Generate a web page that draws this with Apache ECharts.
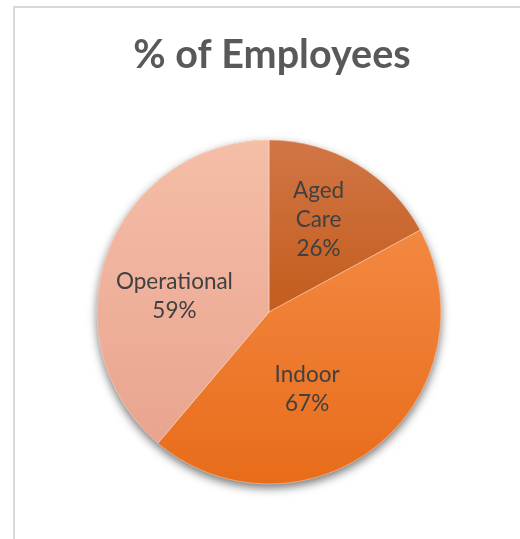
<!DOCTYPE html>
<html>
<head>
<meta charset="utf-8">
<script src="https://cdn.jsdelivr.net/npm/echarts@6/dist/echarts.min.js"></script>
<style>html,body{margin:0;padding:0;background:#fff}#c{width:520px;height:539px}</style>
</head>
<body>
<div id="c"></div>
<script>
const categories = ['Aged Care', 'Indoor', 'Operational'];
const labelNames = ['Aged\nCare', 'Indoor', 'Operational'];
const values = [26, 67, 59];
const colorsTop = ['#d07646', '#f38842', '#f5bea7'];
const colorsBottom = ['#c45c1c', '#e86c1a', '#e9a48f'];
const labelShift = [[4, -16], [-18, 8], [-11, 15]];

const chart = echarts.init(document.getElementById('c'));
const data = categories.map((c, i) => ({
  name: c,
  value: values[i],
  itemStyle: {
    color: new echarts.graphic.LinearGradient(0, 0, 0, 1, [
      { offset: 0, color: colorsTop[i] },
      { offset: 1, color: colorsBottom[i] }
    ])
  },
  label: { formatter: labelNames[i] + '\n' + values[i] + '%' }
}));

chart.setOption({
  animation: false,
  title: {
    text: '% of Employees',
    left: 267, top: 30, textAlign: 'center',
    textStyle: { fontFamily: 'Lato', fontWeight: 'bold', fontSize: 39.5, color: '#595959' }
  },
  graphic: [{
    type: 'rect', shape: { x: 14, y: 7, width: 520, height: 540 },
    style: { fill: 'none', stroke: '#d9d9d9', lineWidth: 2 }, silent: true, z: -10
  }],
  series: [
    {
      type: 'pie', center: [269, 312], radius: 172, silent: true, z: 1,
      data: [{ value: 1, name: '' }],
      label: { show: false }, labelLine: { show: false },
      itemStyle: { color: '#e86c1a', shadowBlur: 10, shadowOffsetY: 4, shadowColor: 'rgba(0,0,0,0.55)' }
    },
    {
      type: 'pie', center: [269, 312], radius: 172, startAngle: 90, clockwise: true, z: 2,
      data: data,
      itemStyle: { borderColor: 'rgba(255,255,255,0.55)', borderWidth: 0.7 },
      label: {
        position: 'inside', fontFamily: 'Lato', fontSize: 22.5, lineHeight: 29,
        color: '#404040', align: 'center'
      },
      labelLine: { show: false },
      labelLayout: function (p) {
        return { dx: labelShift[p.dataIndex][0], dy: labelShift[p.dataIndex][1] };
      }
    }
  ]
});
</script>
</body>
</html>
